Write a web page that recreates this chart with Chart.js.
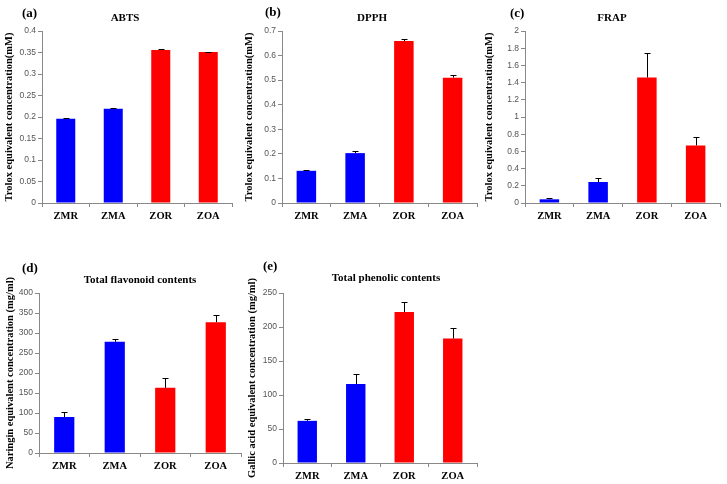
<!DOCTYPE html>
<html>
<head>
<meta charset="utf-8">
<script src="https://cdn.jsdelivr.net/npm/chart.js@4"></script>
<style>
  body { margin: 0; background: #fff; }
  #wrap { position: relative; width: 727px; height: 484px; overflow: hidden; }
  canvas { position: absolute; }
  .lbl { position: absolute; font-family: "Liberation Serif", "Times New Roman", serif; font-weight: bold; color: #000; line-height: 1; white-space: nowrap; }
  .ttl { text-align: center; width: 200px; font-size: 11px; }
  .tag { font-size: 13px; }
</style>
</head>
<body>
<div id="wrap"></div>
<script>
const categories = ['ZMR', 'ZMA', 'ZOR', 'ZOA'];
const barColors = ['#0000ff', '#0000ff', '#ff0000', '#ff0000'];

const abtsValues = [0.196, 0.219, 0.356, 0.351];
const abtsErrors = [0.002, 0.002, 0.001, 0.001];
const dpphValues = [0.131, 0.203, 0.659, 0.510];
const dpphErrors = [0.004, 0.009, 0.008, 0.010];
const frapValues = [0.043, 0.244, 1.46, 0.67];
const frapErrors = [0.015, 0.045, 0.29, 0.094];
const flavonoidValues = [90, 278, 163, 327];
const flavonoidErrors = [12, 7, 25, 17];
const phenolicValues = [62, 116, 222, 183];
const phenolicErrors = [2, 15, 15, 15];

const wrap = document.getElementById('wrap');

// upward error bars, drawn with the y scale of each chart
const errorBars = {
    id: 'errorBars',
    afterDatasetsDraw(chart) {
        const ds = chart.data.datasets[0];
        const meta = chart.getDatasetMeta(0);
        const y = chart.scales.y;
        const ctx = chart.ctx;
        ctx.save();
        ctx.strokeStyle = '#000';
        ctx.lineWidth = 1;
        meta.data.forEach((bar, i) => {
            const top = Math.round(y.getPixelForValue(ds.data[i] + ds.errors[i])) + 0.5;
            const x = Math.round(bar.x) + 0.5;
            ctx.beginPath();
            ctx.moveTo(x, bar.y);
            ctx.lineTo(x, top);
            ctx.moveTo(x - 3, top);
            ctx.lineTo(x + 3, top);
            ctx.stroke();
        });
        ctx.restore();
    }
};

function addLabel(text, cls, left, top) {
    const d = document.createElement('div');
    d.className = 'lbl ' + cls;
    d.textContent = text;
    d.style.left = left + 'px';
    d.style.top = top + 'px';
    wrap.appendChild(d);
}

function makePanel(p) {
    const c = document.createElement('canvas');
    c.width = p.box.w;
    c.height = p.box.h;
    c.style.left = p.box.l + 'px';
    c.style.top = p.box.t + 'px';
    wrap.appendChild(c);

    new Chart(c.getContext('2d'), {
        type: 'bar',
        data: {
            labels: categories,
            datasets: [{
                data: p.values,
                errors: p.errors,
                backgroundColor: barColors,
                borderWidth: 0,
                barPercentage: 0.4,
                categoryPercentage: 1
            }]
        },
        options: {
            responsive: false,
            animation: false,
            devicePixelRatio: 1,
            layout: {
                padding: {
                    left: 0,
                    top: p.plot.y0 - p.box.t,
                    right: p.box.l + p.box.w - p.plot.x1,
                    bottom: 0
                }
            },
            plugins: { legend: { display: false }, tooltip: { enabled: false } },
            scales: {
                x: {
                    afterFit: s => { s.height = p.box.t + p.box.h - p.plot.y1; },
                    grid: { drawOnChartArea: false, drawTicks: true, tickLength: 4, color: '#888' },
                    border: { color: '#888' },
                    ticks: {
                        color: '#000', padding: 3, maxRotation: 0,
                        font: { family: 'Liberation Serif', weight: 'bold', size: 10.5 }
                    }
                },
                y: {
                    min: 0, max: p.max,
                    afterFit: s => { s.width = p.plot.x0 - p.box.l; },
                    grid: { drawOnChartArea: false, drawTicks: true, tickLength: 4, color: '#888' },
                    border: { color: '#888' },
                    ticks: {
                        stepSize: p.step, color: '#555', padding: 2,
                        font: { family: 'Liberation Sans', size: 8.5 },
                        callback: v => String(+v.toFixed(3))
                    },
                    title: {
                        display: true, text: p.yTitle, color: '#000',
                        padding: { top: p.titlePad, bottom: 0 },
                        font: { family: 'Liberation Serif', weight: 'bold', size: 10.5 }
                    }
                }
            }
        },
        plugins: [errorBars]
    });

    addLabel(p.title, 'ttl', p.titleX - 100, p.titleY - 5);
    addLabel(p.tag, 'tag', p.tagX, p.tagY - 7);
}

makePanel({
    values: abtsValues, errors: abtsErrors, max: 0.4, step: 0.05,
    yTitle: 'Trolox equivalent concentration(mM)', titlePad: 3,
    box: { l: 0, t: 0, w: 240, h: 240 },
    plot: { x0: 42, x1: 232, y0: 31, y1: 203 },
    title: 'ABTS', titleX: 125, titleY: 17, tag: '(a)', tagX: 22, tagY: 13
});
makePanel({
    values: dpphValues, errors: dpphErrors, max: 0.7, step: 0.1,
    yTitle: 'Trolox equivalent concentration(mM)', titlePad: 3,
    box: { l: 240, t: 0, w: 240, h: 240 },
    plot: { x0: 282, x1: 477, y0: 31, y1: 203 },
    title: 'DPPH', titleX: 372, titleY: 17, tag: '(b)', tagX: 265, tagY: 12
});
makePanel({
    values: frapValues, errors: frapErrors, max: 2, step: 0.2,
    yTitle: 'Trolox equivalent concentration(mM)', titlePad: 3,
    box: { l: 480, t: 0, w: 247, h: 240 },
    plot: { x0: 525, x1: 720, y0: 31, y1: 203 },
    title: 'FRAP', titleX: 612, titleY: 17, tag: '(c)', tagX: 510, tagY: 13
});
makePanel({
    values: flavonoidValues, errors: flavonoidErrors, max: 400, step: 50,
    yTitle: 'Naringin equivalent concentration (mg/ml)', titlePad: 4,
    box: { l: 0, t: 245, w: 242, h: 239 },
    plot: { x0: 39, x1: 241, y0: 293, y1: 453 },
    title: 'Total flavonoid contents', titleX: 140, titleY: 279, tag: '(d)', tagX: 22, tagY: 268
});
makePanel({
    values: phenolicValues, errors: phenolicErrors, max: 250, step: 50,
    yTitle: 'Gallic acid equivalent concentration (mg/ml)', titlePad: 6,
    box: { l: 240, t: 245, w: 245, h: 239 },
    plot: { x0: 283, x1: 477, y0: 293, y1: 463 },
    title: 'Total phenolic contents', titleX: 386, titleY: 277, tag: '(e)', tagX: 263, tagY: 266
});
</script>
</body>
</html>
